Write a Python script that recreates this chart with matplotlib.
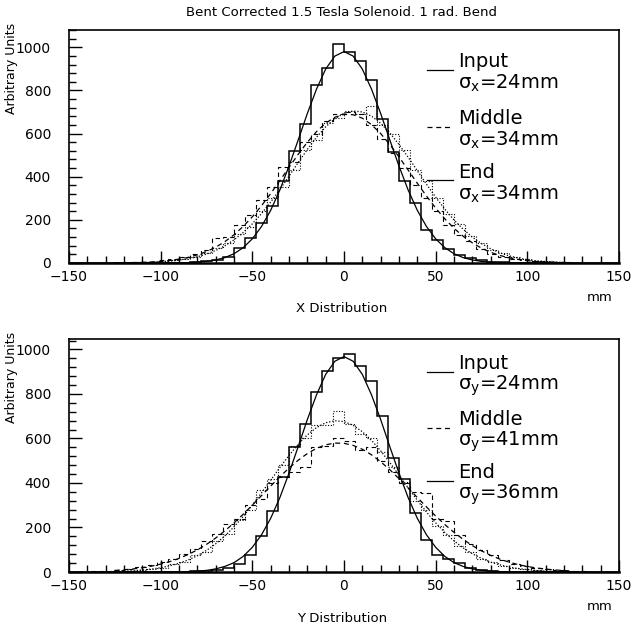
import numpy as np
import matplotlib
matplotlib.use("Agg")
import matplotlib.pyplot as plt
from matplotlib.ticker import MultipleLocator

# -----------------------------------------------
# DATA
# -----------------------------------------------
# 50 bins of 6 mm between -150 and 150 mm
BIN_EDGES = np.linspace(-150, 150, 51)

# X distribution histograms
x_input = [0, 0, 0, 0, 0, 0, 0, 0, 0, 1,
           2, 4, 8, 15, 30, 69, 116, 186, 264, 381,
           518, 643, 823, 904, 1016, 979, 935, 846, 667, 514,
           381, 280, 155, 108, 66, 38, 22, 12, 6, 3,
           1, 0, 0, 0, 0, 0, 0, 0, 0, 0]
x_middle = [0, 0, 0, 2, 0, 3, 5, 6, 12, 18,
            30, 44, 62, 118, 120, 178, 222, 290, 352, 445,
            470, 560, 600, 660, 690, 700, 690, 640, 575, 510,
            440, 360, 300, 240, 175, 130, 100, 65, 42, 28,
            20, 14, 8, 5, 3, 2, 1, 0, 0, 0]
x_end = [0, 0, 0, 0, 1, 1, 3, 4, 8, 12,
         20, 30, 48, 70, 95, 135, 165, 240, 300, 350,
         430, 525, 570, 650, 670, 705, 690, 730, 640, 600,
         525, 430, 380, 300, 225, 180, 125, 92, 60, 45,
         28, 18, 10, 7, 4, 2, 1, 0, 0, 0]

# Y distribution histograms
y_input = [0, 0, 0, 0, 0, 0, 0, 0, 0, 0,
           0, 3, 6, 10, 17, 36, 77, 160, 274, 425,
           561, 667, 811, 902, 962, 981, 925, 857, 700, 513,
           420, 266, 145, 77, 58, 41, 17, 10, 5, 2,
           1, 0, 0, 0, 0, 0, 0, 0, 0, 0]
y_middle = [0, 2, 3, 6, 10, 14, 22, 30, 45, 60,
            80, 105, 140, 170, 215, 240, 300, 330, 400, 425,
            450, 470, 560, 565, 600, 590, 550, 560, 500, 450,
            400, 360, 355, 240, 230, 165, 125, 100, 75, 55,
            38, 28, 20, 12, 9, 6, 3, 2, 1, 0]
y_end = [0, 0, 1, 2, 3, 5, 9, 14, 20, 35,
         45, 75, 90, 140, 170, 235, 280, 370, 418, 480,
         565, 600, 660, 660, 723, 665, 622, 600, 540, 470,
         405, 320, 280, 205, 165, 115, 90, 58, 45, 28,
         20, 12, 7, 4, 2, 1, 1, 0, 0, 0]

# fitted curves, sampled every 5 mm from -125 to 125
CURVE_X = np.linspace(-125, 125, 51)
x_input_fit = [0, 0, 0, 0, 0.1, 0.2, 0.4, 0.9, 1.9, 3.8, 7.4, 14, 25, 43, 71, 112, 169,
               244, 338, 449, 570, 693, 806, 899, 959, 980, 959, 899, 806, 693, 570,
               449, 338, 244, 169, 112, 71, 43, 25, 14, 7.4, 3.8, 1.9, 0.9, 0.4, 0.2,
               0.1, 0, 0, 0, 0]
x_middle_fit = [0.6, 1.1, 1.9, 3.0, 4.9, 7.7, 11.8, 17.7, 26.1, 37.7, 53.1, 73.3, 98.9,
                130.8, 169.3, 214.2, 265.4, 321.7, 381.7, 443.1, 503.4, 559.7, 608.9,
                648.3, 675.5, 688.8, 687.3, 671.2, 641.4, 599.8, 548.9, 491.6, 430.8,
                369.5, 310.2, 254.7, 204.7, 161.0, 123.9, 93.4, 68.8, 49.7, 35.1, 24.2,
                16.4, 10.8, 7.0, 4.4, 2.8, 1.7, 1.0]
x_end_fit = [0.4, 0.7, 1.3, 2.1, 3.4, 5.5, 8.6, 13.1, 19.6, 28.8, 41.3, 58.0, 79.7,
             107.2, 141.1, 181.7, 228.9, 282.3, 340.7, 402.5, 465.2, 526.3, 582.6,
             631.1, 669.0, 694.1, 704.7, 700.1, 680.7, 647.7, 603.1, 549.5, 490.0,
             427.6, 365.1, 305.1, 249.6, 199.7, 156.4, 119.9, 90.0, 66.0, 47.4, 33.3,
             22.9, 15.4, 10.2, 6.5, 4.1, 2.6, 1.5]
y_input_fit = [0, 0, 0, 0, 0.1, 0.2, 0.4, 0.9, 1.9, 3.7, 7.3, 14, 25, 42, 70, 111, 167,
               241, 334, 444, 563, 685, 796, 888, 947, 968, 947, 888, 796, 685, 563,
               444, 334, 241, 167, 111, 70, 42, 25, 14, 7.3, 3.7, 1.9, 0.9, 0.4, 0.2,
               0.1, 0, 0, 0, 0]
y_middle_fit = [6.9, 9.9, 13.9, 19.3, 26.3, 35.3, 46.8, 61.1, 78.5, 99.4, 124.1, 152.6,
                184.8, 220.7, 259.5, 300.7, 343.2, 386.0, 427.7, 467.0, 502.2, 532.2,
                555.7, 571.6, 579.3, 578.4, 569.0, 551.6, 526.7, 495.6, 459.4, 419.5,
                377.5, 334.6, 292.3, 251.5, 213.3, 178.1, 146.6, 118.8, 94.9, 74.7,
                57.9, 44.3, 33.3, 24.7, 18.1, 13.0, 9.2, 6.4, 4.4]
y_end_fit = [2.4, 3.8, 5.9, 8.9, 13.3, 19.4, 27.9, 39.2, 54.1, 73.2, 97.2, 126.6, 161.8,
             202.8, 249.3, 300.6, 355.5, 412.4, 469.3, 523.9, 573.6, 616.1, 649.0,
             670.6, 679.7, 675.8, 659.1, 630.5, 591.6, 544.5, 491.6, 435.3, 378.1,
             322.2, 269.3, 220.8, 177.5, 140.0, 108.3, 82.2, 61.2, 44.7, 32.0, 22.5,
             15.5, 10.5, 6.9, 4.5, 2.9, 1.8, 1.1]

LEGEND_NAMES = ["Input", "Middle", "End"]
X_SIGMAS = [24, 34, 34]
Y_SIGMAS = [24, 41, 36]
X_YMAX = 1080
Y_YMAX = 1047

TITLE = "Bent Corrected 1.5 Tesla Solenoid. 1 rad. Bend"

# -----------------------------------------------
# STYLE
# -----------------------------------------------
SOLID = "-"
DASHED = (0, (4, 3))
DOTTED = (0, (1, 1.5))
W = H = 632


def fx(px):
    return px / W


def fy(py):
    return 1 - py / H


def draw_panel(ax, hists, fits, ymax, sigmas, sub, rows):
    styles = [SOLID, DASHED, DOTTED]
    widths = [1.1, 0.8, 0.8]
    for h, ls, lw in zip(hists, styles, widths):
        ax.stairs(h, BIN_EDGES, color="black", linestyle=ls, lw=lw)
    for f, ls in zip(fits, styles):
        ax.plot(CURVE_X, f, color="black", linestyle=ls, lw=0.9)

    ax.set_xlim(-150, 150)
    ax.set_ylim(0, ymax)
    ax.xaxis.set_major_locator(MultipleLocator(50))
    ax.xaxis.set_minor_locator(MultipleLocator(10))
    ax.yaxis.set_major_locator(MultipleLocator(200))
    ax.yaxis.set_minor_locator(MultipleLocator(40))
    ax.tick_params(which="both", direction="in", top=False, right=False,
                   labelsize=10, width=1)
    ax.tick_params(axis="x", pad=5)
    ax.tick_params(axis="y", pad=13)
    ax.tick_params(which="major", length=9)
    ax.tick_params(which="minor", length=5)
    for s in ax.spines.values():
        s.set_linewidth(1.2)
    ax.spines["bottom"].set_linewidth(1.8)

    # legend drawn by hand, like the PAW key
    legend_ls = [SOLID, DASHED, SOLID]
    for name, sig, ytop, ls in zip(LEGEND_NAMES, sigmas, rows, legend_ls):
        ax.plot([0.651, 0.698], [ytop - 0.035, ytop - 0.035], transform=ax.transAxes,
                color="black", lw=0.9, linestyle=ls)
        ax.text(0.707, ytop, name, transform=ax.transAxes, fontsize=14,
                ha="left", va="center")
        ax.text(0.707, ytop - 0.095, "σ$_{\\rm %s}$=%dmm" % (sub, sig),
                transform=ax.transAxes, fontsize=14, ha="left", va="center")


def main():
    plt.rcParams["font.family"] = ["DejaVu Sans"]
    fig = plt.figure(figsize=(W / 100, H / 100), dpi=100)

    left, width = fx(69), fx(619) - fx(69)
    ax1 = fig.add_axes([left, fy(263), width, fy(30) - fy(263)])
    ax2 = fig.add_axes([left, fy(572), width, fy(339) - fy(572)])

    draw_panel(ax1, [x_input, x_middle, x_end],
               [x_input_fit, x_middle_fit, x_end_fit], X_YMAX, X_SIGMAS, "x",
               [0.865, 0.62, 0.39])
    draw_panel(ax2, [y_input, y_middle, y_end],
               [y_input_fit, y_middle_fit, y_end_fit], Y_YMAX, Y_SIGMAS, "y",
               [0.895, 0.655, 0.425])

    fig.text(fx(341), fy(12), TITLE, fontsize=9.5, ha="center", va="center")
    for off, lab in [(0, "X Distribution"), (309, "Y Distribution")]:
        fig.text(fx(342), fy(309 + off), lab, fontsize=9.5, ha="center", va="center")
        fig.text(fx(600), fy(297 + off), "mm", fontsize=9.5, ha="center", va="center")
        fig.text(fx(12), fy(23 + off), "Arbitrary Units", fontsize=9, rotation=90,
                 ha="center", va="top")

    fig.savefig("out.png", dpi=100)


if __name__ == "__main__":
    main()
